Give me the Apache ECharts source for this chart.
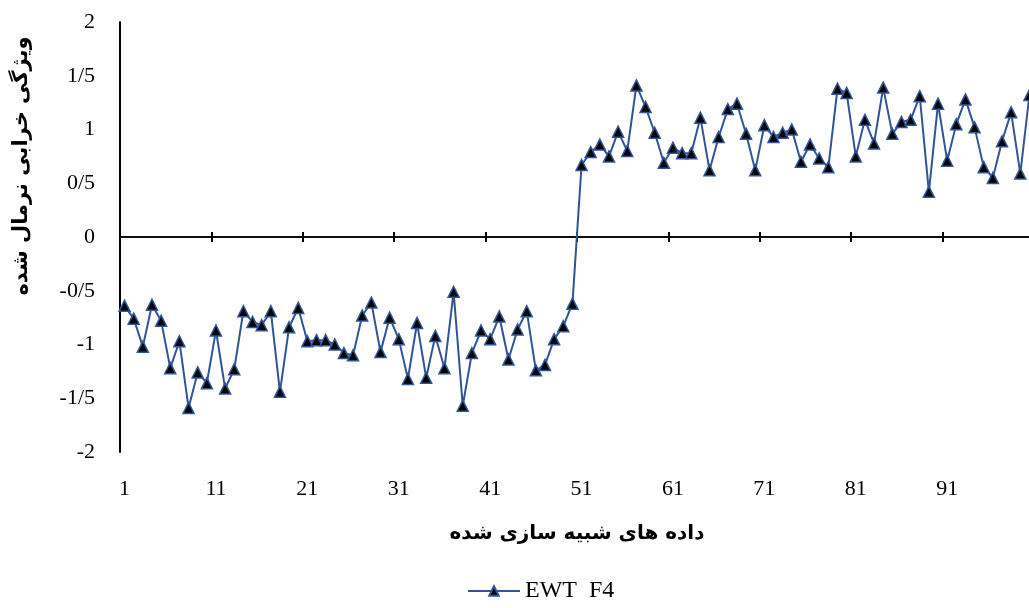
<!DOCTYPE html>
<html>
<head>
<meta charset="utf-8">
<script src="https://cdn.jsdelivr.net/npm/echarts@6/dist/echarts.min.js"></script>
<style>html,body{margin:0;padding:0;background:#fff;}#c{width:1029px;height:608px;}</style>
</head>
<body>
<div id="c"></div>
<script>
const categories = [];
for (let i = 1; i <= 100; i++) categories.push(String(i));
const seriesName = 'EWT  F4';
const values = [
  -0.64, -0.76, -1.02, -0.63, -0.78, -1.22, -0.97, -1.59, -1.26, -1.36,
  -0.87, -1.41, -1.23, -0.69, -0.79, -0.82, -0.69, -1.44, -0.84, -0.66,
  -0.97, -0.96, -0.96, -1.00, -1.08, -1.10, -0.73, -0.61, -1.07, -0.75,
  -0.95, -1.32, -0.80, -1.31, -0.92, -1.22, -0.51, -1.57, -1.08, -0.87,
  -0.95, -0.74, -1.14, -0.86, -0.69, -1.24, -1.19, -0.95, -0.83, -0.62,
  0.67, 0.79, 0.86, 0.75, 0.98, 0.80, 1.41, 1.21, 0.97, 0.69,
  0.83, 0.78, 0.78, 1.11, 0.62, 0.93, 1.19, 1.24, 0.96, 0.62,
  1.04, 0.93, 0.97, 1.00, 0.70, 0.86, 0.73, 0.65, 1.38, 1.34,
  0.75, 1.09, 0.87, 1.39, 0.96, 1.07, 1.09, 1.31, 0.42, 1.24,
  0.71, 1.05, 1.28, 1.02, 0.65, 0.55, 0.89, 1.16, 0.59, 1.32
];
const yTicks = { min: -2, max: 2, interval: 0.5 };
const xTitle = 'داده های شبیه سازی شده';
const yTitle = 'ویژگی خرابی نرمال شده';

const chart = echarts.init(document.getElementById('c'));
const serif = '"Liberation Serif", "Times New Roman", serif';
const lineColor = '#2F5597';
chart.setOption({
  animation: false,
  backgroundColor: '#fff',
  grid: { left: 120, top: 22, width: 914, height: 430, containLabel: false, outerBoundsMode: 'none' },
  xAxis: [
    {
      type: 'category', data: categories, boundaryGap: true, position: 'bottom',
      axisLine: { show: false, onZero: false },
      axisTick: { show: false },
      axisLabel: { interval: 9, margin: 26, fontFamily: serif, fontSize: 22, color: '#000' },
      name: xTitle, nameLocation: 'middle', nameGap: 72,
      nameTextStyle: { fontFamily: '"DejaVu Sans", sans-serif', fontWeight: 'bold', fontSize: 20, color: '#000' }
    },
    {
      type: 'category', data: categories, boundaryGap: true, position: 'bottom',
      axisLine: { show: true, onZero: true, onZeroAxisIndex: 0, lineStyle: { color: '#000', width: 1.5 } },
      axisTick: { show: true, interval: 9, inside: false, length: 5, lineStyle: { color: '#000', width: 2 } },
      axisLabel: { show: false }
    },
    {
      type: 'category', data: categories, boundaryGap: true, position: 'top',
      axisLine: { show: true, onZero: true, onZeroAxisIndex: 1, lineStyle: { color: '#000', width: 1.5 } },
      axisTick: { show: true, interval: 9, inside: false, length: 5, lineStyle: { color: '#000', width: 2 } },
      axisLabel: { show: false }
    }
  ],
  yAxis: [
    {
      type: 'value', min: yTicks.min, max: yTicks.max, interval: yTicks.interval,
      axisLine: { show: true, onZero: false, lineStyle: { color: '#000', width: 2 } },
      axisTick: { show: false },
      splitLine: { show: false },
      axisLabel: {
        margin: 25, fontFamily: serif, fontSize: 22, color: '#000',
        formatter: v => String(v).replace('.', '/')
      }
    },
    {
      type: 'value', min: yTicks.min, max: yTicks.max, interval: yTicks.interval, position: 'left',
      axisLine: { show: false, onZero: false }, axisTick: { show: false },
      axisLabel: { show: false }, splitLine: { show: false }
    }
  ],
  legend: {
    data: [seriesName], left: 462, top: 574, itemWidth: 52, itemHeight: 12, itemGap: 6,
    textStyle: { fontFamily: serif, fontSize: 24, color: '#000' }
  },
  graphic: [{
    type: 'text', x: 22, y: 166, rotation: Math.PI / 2,
    style: {
      text: yTitle, align: 'center', verticalAlign: 'middle',
      font: 'bold 21px "DejaVu Sans", sans-serif', fill: '#000'
    }
  }],
  series: [{
    name: seriesName, type: 'line', xAxisIndex: 0, yAxisIndex: 0, data: values,
    symbol: 'triangle', symbolSize: 11, showAllSymbol: true,
    lineStyle: { color: lineColor, width: 2 },
    itemStyle: { color: '#000', borderColor: lineColor, borderWidth: 1.5 }
  }]
});
</script>
</body>
</html>
